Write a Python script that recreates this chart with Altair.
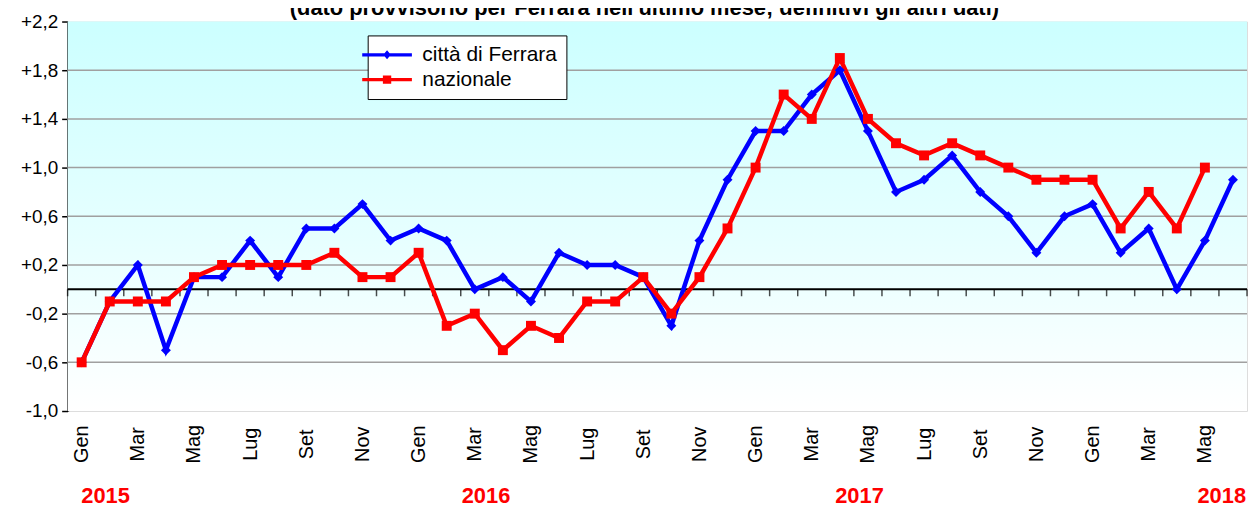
import json
import altair as alt
import pandas as pd

# ---------------- data ----------------
MONTHS = ["Gen", "Feb", "Mar", "Apr", "Mag", "Giu", "Lug", "Ago", "Set", "Ott", "Nov", "Dic"]
SERIES = ["città di Ferrara", "nazionale"]
# Gen 2015 ... Giu 2018 (42 months)
FERRARA = [-0.6, -0.1, 0.2, -0.5, 0.1, 0.1, 0.4, 0.1, 0.5, 0.5, 0.7, 0.4,
           0.5, 0.4, 0.0, 0.1, -0.1, 0.3, 0.2, 0.2, 0.1, -0.3, 0.4, 0.9,
           1.3, 1.3, 1.6, 1.8, 1.3, 0.8, 0.9, 1.1, 0.8, 0.6, 0.3, 0.6,
           0.7, 0.3, 0.5, 0.0, 0.4, 0.9]
# Gen 2015 ... Mag 2018 (41 months)
NAZIONALE = [-0.6, -0.1, -0.1, -0.1, 0.1, 0.2, 0.2, 0.2, 0.2, 0.3, 0.1, 0.1,
             0.3, -0.3, -0.2, -0.5, -0.3, -0.4, -0.1, -0.1, 0.1, -0.2, 0.1, 0.5,
             1.0, 1.6, 1.4, 1.9, 1.4, 1.2, 1.1, 1.2, 1.1, 1.0, 0.9, 0.9,
             0.9, 0.5, 0.8, 0.5, 1.0]
Y_TICKS = [-1.0, -0.6, -0.2, 0.2, 0.6, 1.0, 1.4, 1.8, 2.2]
YEARS = ["2015", "2016", "2017", "2018"]
TITLE = "(dato provvisorio per Ferrara nell'ultimo mese; definitivi gli altri dati)"

# layout (not data)
YEAR_POS = [0.85, 14.4, 27.7, 40.6]
N = len(FERRARA)
W, H = 1187, 392
FONT = "Liberation Sans"
COLORS = ["#0000FF", "#FF0000"]

rows = []
for i, v in enumerate(FERRARA):
    rows.append({"idx": i, "serie": SERIES[0], "val": v})
for i, v in enumerate(NAZIONALE):
    rows.append({"idx": i, "serie": SERIES[1], "val": v})
df = pd.DataFrame(rows)

xs = alt.Scale(domain=[-0.5, N - 0.5], nice=False, zero=False)
ys = alt.Scale(domain=[Y_TICKS[0], Y_TICKS[-1]], nice=False, zero=False)
cs = alt.Scale(domain=SERIES, range=COLORS)

month_arr = json.dumps(MONTHS)
x_axis = alt.Axis(
    values=list(range(0, N, 2)),
    labelExpr=f"{month_arr}[datum.value % 12]",
    labelAngle=270, labelAlign="center", labelBaseline="middle",
    labelPadding=33, labelFontSize=20, labelFont=FONT, labelColor="black",
    ticks=False, tickSize=0, domain=False, grid=False, title=None,
    labelOverlap=False, labelFlush=False,
)
y_axis = alt.Axis(
    values=Y_TICKS,
    labelExpr="(datum.value > 0 ? '+' : (datum.value < 0 ? '-' : '')) + replace(format(abs(datum.value), '.1f'), '.', ',')",
    labelFontSize=19, labelFont=FONT, labelColor="black", labelPadding=4,
    tickSize=6, tickColor="black", tickWidth=1.5,
    domainColor="black", domainWidth=2, grid=False, title=None,
)

# background gradient
bg = alt.Chart(pd.DataFrame({"a": [0]})).mark_rect(
    fill=alt.LinearGradient(
        gradient="linear",
        stops=[alt.GradientStop(color="#CCFFFF", offset=0),
               alt.GradientStop(color="#E6FFFF", offset=0.55),
               alt.GradientStop(color="#FFFFFF", offset=1)],
        x1=0, x2=0, y1=0, y2=1),
).encode(
    x=alt.X(datum=-0.5, scale=xs, axis=x_axis),
    x2=alt.X2(datum=N - 0.5),
    y=alt.Y(datum=Y_TICKS[0], scale=ys, axis=y_axis),
    y2=alt.Y2(datum=Y_TICKS[-1]),
)

grid = alt.Chart(pd.DataFrame({"t": Y_TICKS[1:-1]})).mark_rule(
    color="#A0A0A0", strokeWidth=1.5
).encode(y=alt.Y("t:Q", scale=ys))

zero = alt.Chart(pd.DataFrame({"z": [0.0]})).mark_rule(
    color="black", strokeWidth=2
).encode(y=alt.Y("z:Q", scale=ys))

bounds = alt.Chart(pd.DataFrame({"b": [i - 0.5 for i in range(N + 1)], "z": [0.0] * (N + 1)})).mark_tick(
    orient="vertical", size=7, thickness=1.5, color="black", yOffset=3.5
).encode(x=alt.X("b:Q", scale=xs), y=alt.Y("z:Q", scale=ys))

lines = alt.Chart(df).mark_line(strokeWidth=4.5).encode(
    x=alt.X("idx:Q", scale=xs),
    y=alt.Y("val:Q", scale=ys),
    color=alt.Color("serie:N", scale=cs, legend=None),
)

points = alt.Chart(df).mark_point(filled=True, size=100, opacity=1).encode(
    x=alt.X("idx:Q", scale=xs),
    y=alt.Y("val:Q", scale=ys),
    color=alt.Color("serie:N", scale=cs, legend=None),
    shape=alt.Shape("serie:N", scale=alt.Scale(domain=SERIES, range=["diamond", "square"]), legend=None),
)

# legend symbols: line + marker (custom paths, drawn at size 400 -> scale 10 px/unit)
PATH_D = "M-2.5,-0.16H2.5V0.16H-2.5Z M0,-0.45L0.38,0L0,0.45L-0.38,0Z"
PATH_S = "M-2.5,-0.16H2.5V0.16H-2.5Z M-0.42,-0.42H0.42V0.42H-0.42Z"
leg = alt.Legend(
    orient="none", legendX=302, legendY=14, title=None,
    labelFontSize=21, labelFont=FONT, labelColor="black", labelOffset=25, labelLimit=0,
    symbolSize=400, symbolStrokeWidth=0, symbolOpacity=1,
    symbolFillColor=alt.ExprRef(expr="scale('color', datum.value)"),
    padding=9, fillColor="white", strokeColor="black", rowPadding=3,
)
legend_layer = alt.Chart(df).mark_point(filled=True, opacity=0).encode(
    x=alt.X("idx:Q", scale=xs),
    y=alt.Y("val:Q", scale=ys),
    color=alt.Color("serie:N", scale=cs, legend=None),
    shape=alt.Shape("serie:N", scale=alt.Scale(domain=SERIES, range=[PATH_D, PATH_S]), legend=leg),
)

years = alt.Chart(pd.DataFrame({"y": YEARS, "p": YEAR_POS})).mark_text(
    color="#FF0000", fontSize=22, fontWeight="bold", font=FONT, baseline="middle", align="center"
).encode(x=alt.X("p:Q", scale=xs), y=alt.value(H + 86), text="y:N")

title = alt.Chart(pd.DataFrame({"t": [TITLE]})).mark_text(
    fontSize=22, fontWeight="bold", font=FONT, color="black", baseline="alphabetic", align="center"
).encode(x=alt.value(W / 2 - 13), y=alt.value(-7), text="t:N")

chart = alt.layer(bg, grid, zero, bounds, lines, points, legend_layer, years, title).resolve_scale(
    shape="independent"
).properties(
    width=W, height=H,
    padding={"left": 60, "top": 12, "right": 2, "bottom": 97},
    autosize=alt.AutoSizeParams(type="none"),
).configure_view(stroke="#A0A0A0", strokeWidth=2).configure(background="white")

chart.save("out.html", embed_options={"renderer": "svg", "actions": False})
